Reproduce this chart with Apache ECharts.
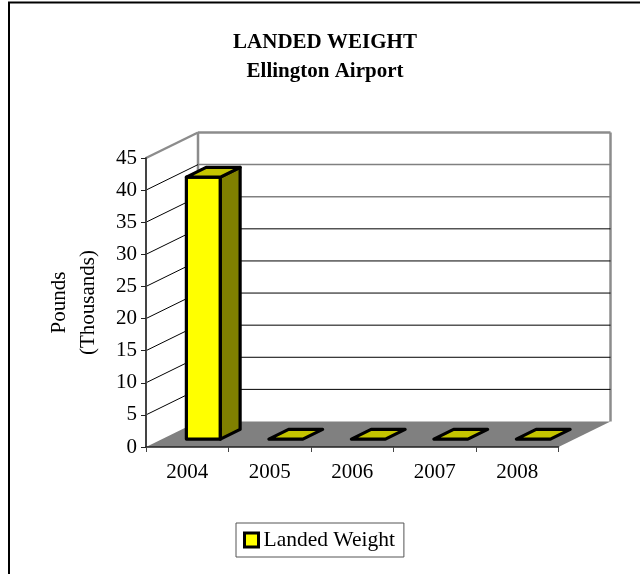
<!DOCTYPE html>
<html><head><meta charset="utf-8">
<style>html,body{margin:0;padding:0;background:#fff}#c{width:640px;height:574px}</style>
<script src="https://cdn.jsdelivr.net/npm/echarts@6/dist/echarts.min.js"></script>
</head><body><div id="c"></div>
<script>
const categories = ['2004','2005','2006','2007','2008'];
const landedWeight = [40.8,0,0,0,0];
const yTicks = [0,5,10,15,20,25,30,35,40,45];
const seriesName = 'Landed Weight';
const titleText = 'LANDED WEIGHT\nEllington Airport';
const yName = 'Pounds\n(Thousands)';

const FONT = '"Liberation Serif","Times New Roman",serif';
const DEPTH = {dx:52, dy:-25.5};
const BAR = {front:0.31, back:0.69, width:34};
const WALL = '#8c8c8c';

function line(a,b,stroke,w){
  return {type:'line',shape:{x1:a[0],y1:a[1],x2:b[0],y2:b[1]},style:{stroke:stroke,lineWidth:w}};
}
function poly(pts,fill,stroke,w){
  return {type:'polygon',shape:{points:pts},style:{fill:fill,stroke:stroke||null,lineWidth:w||0,lineJoin:'round'}};
}
function renderWall(params,api){
  const v = api.value(1);
  const cs = params.coordSys;
  const y = api.coord([0,v])[1];
  const L = cs.x, R = cs.x+cs.width;
  const d = DEPTH;
  const kids = [];
  if(v===0){
    kids.push(poly([[L,y],[L+d.dx,y+d.dy],[R+d.dx,y+d.dy],[R,y]],'#808080'));
    kids.push(line([L+d.dx,y+d.dy],[L+d.dx,cs.y+d.dy],WALL,2.5));
    kids.push(line([R+d.dx,y+d.dy],[R+d.dx,cs.y+d.dy],WALL,2.5));
  } else if(v===45){
    kids.push(line([L,y],[L+d.dx,y+d.dy],WALL,2.5));
    kids.push(line([L+d.dx,y+d.dy],[R+d.dx,y+d.dy],WALL,2.5));
  } else {
    const grey = v>=35;
    kids.push(line([L,y],[L+d.dx,y+d.dy],'#000',1));
    kids.push(line([L+d.dx,y+d.dy],[R+d.dx,y+d.dy],grey?'#808080':'#000',grey?1.5:1));
  }
  return {type:'group',children:kids};
}
function renderBar(params,api){
  const i = api.value(0), v = api.value(1);
  const c = api.coord([i,v]), b = api.coord([i,0]);
  const d = DEPTH, sw = 3.2;
  const fx = c[0]+d.dx*BAR.front, fyT = c[1]+d.dy*BAR.front, fyB = b[1]+d.dy*BAR.front;
  const bdx = d.dx*(BAR.back-BAR.front), bdy = d.dy*(BAR.back-BAR.front);
  const x0 = fx-BAR.width/2, x1 = fx+BAR.width/2;
  const kids = [];
  if(v>0){
    kids.push(poly([[x0,fyT],[x1,fyT],[x1,fyB],[x0,fyB]],'#FFFF00','#000',sw));
    kids.push(poly([[x1,fyT],[x1+bdx,fyT+bdy],[x1+bdx,fyB+bdy],[x1,fyB]],'#808000','#000',sw));
  }
  kids.push(poly([[x0,fyT],[x1,fyT],[x1+bdx,fyT+bdy],[x0+bdx,fyT+bdy]],'#C4C400','#000',sw));
  return {type:'group',children:kids};
}
const chart = echarts.init(document.getElementById('c'),null,{renderer:'canvas'});
chart.setOption({
  animation:false,
  backgroundColor:'#fff',
  textStyle:{fontFamily:FONT},
  title:{text:titleText,left:320,top:23,textAlign:'center',
    textStyle:{fontFamily:FONT,fontSize:21,fontWeight:'bold',color:'#000',lineHeight:29}},
  grid:{left:146,right:81.5,top:158,bottom:127,containLabel:false},
  legend:{show:true,left:236,top:523,orient:'horizontal',
    padding:[6,9,6,7],itemWidth:14,itemHeight:14,itemGap:5,
    borderColor:'#555',borderWidth:1,borderRadius:0,backgroundColor:'#fff',
    textStyle:{fontFamily:FONT,fontSize:21.5,color:'#000',lineHeight:16,height:16},
    selectedMode:false,
    data:[{name:seriesName,icon:'rect',itemStyle:{color:'#FFFF00',borderColor:'#000',borderWidth:3}}]},
  xAxis:{type:'category',data:categories,z:5,
    axisLine:{show:true,lineStyle:{color:'#222',width:1.5}},
    axisTick:{show:true,length:5,alignWithLabel:false,lineStyle:{color:'#444',width:1}},
    axisLabel:{fontFamily:FONT,fontSize:21,color:'#000',margin:15},
    splitLine:{show:false}},
  yAxis:{type:'value',min:0,max:45,interval:5,z:5,
    name:yName,nameLocation:'middle',nameRotate:90,nameGap:43,
    nameTextStyle:{fontFamily:FONT,fontSize:21,color:'#000',lineHeight:29},
    axisLine:{show:true,lineStyle:{color:'#444',width:2}},
    axisTick:{show:true,length:5,lineStyle:{color:'#222',width:1}},
    axisLabel:{fontFamily:FONT,fontSize:21,color:'#000',margin:9},
    splitLine:{show:false}},
  graphic:[{type:'polyline',silent:true,z:-1,
    shape:{points:[[9,574],[9,2.5],[640,2.5]]},
    style:{fill:null,stroke:'#000',lineWidth:2}}],
  series:[
    {type:'custom',name:'wall',silent:true,clip:false,z:1,renderItem:renderWall,
     encode:{x:0,y:1},data:yTicks.map(v=>[0,v])},
    {type:'custom',name:seriesName,clip:false,z:3,renderItem:renderBar,
     itemStyle:{color:'#FFFF00'},encode:{x:0,y:1},
     data:landedWeight.map((v,i)=>[i,v])}
  ]
});
</script></body></html>
